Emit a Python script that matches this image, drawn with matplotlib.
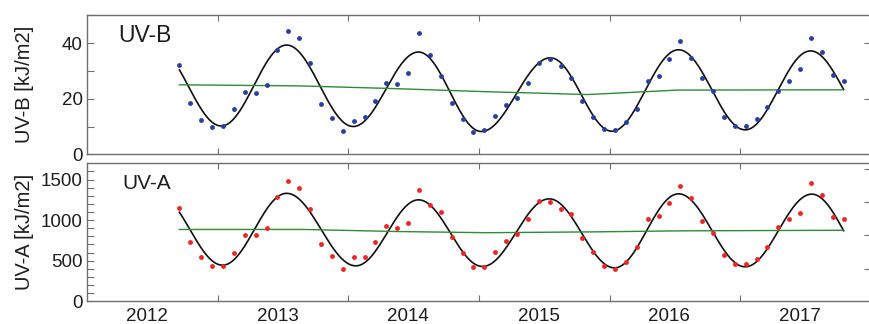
import numpy as np
import pandas as pd
import matplotlib
matplotlib.use("Agg")
import matplotlib.pyplot as plt

plt.rcParams['font.family'] = ['Liberation Sans', 'DejaVu Sans']

# ---------------- data ----------------
months = pd.date_range('2012-04-01', periods=62, freq='MS')
t = (months.year + (months.month - 1) / 12.0).to_numpy(dtype=float)

uvb = [32.2, 18.6, 12.4, 9.85, 10.3, 16.2, 22.3, 22.1, 24.9, 37.6, 44.2,
       41.7, 32.9, 18.1, 13.1, 8.5, 12.1, 13.3, 19.1, 25.7, 25.3, 29.2, 43.7,
       35.8, 28.1, 18.4, 12.6, 8.0, 8.9, 13.7, 17.8, 20.2, 25.7, 32.7, 34.2,
       31.7, 27.4, 19.0, 13.3, 9.1, 8.6, 11.5, 16.3, 26.5, 28.1, 34.4, 40.8,
       34.7, 27.6, 22.9, 13.3, 10.1, 10.3, 12.6, 17.1, 22.7, 26.4, 30.6, 41.7,
       36.9, 28.7, 26.2]

uva = [1147, 734, 540, 441, 429, 590, 821, 813, 899, 1279, 1477,
       1390, 1139, 710, 553, 400, 540, 545, 730, 924, 899, 969, 1374,
       1188, 1106, 788, 598, 421, 421, 602, 747, 833, 1011, 1233, 1221,
       1139, 1077, 780, 606, 437, 392, 487, 672, 1011, 1048, 1205, 1423,
       1271, 994, 846, 573, 454, 454, 524, 664, 920, 1019, 1085, 1460,
       1308, 1040, 1015]

# fitted seasonal curve: successive extrema (year, value)
fit_b_x = [2012.07, 2012.57, 2013.07, 2013.58, 2014.08, 2014.56, 2015.09, 2015.56,
           2016.07, 2016.58, 2017.08, 2017.58]
fit_b_y = [38.5, 10.2, 39.3, 10.0, 36.8, 8.2, 34.7, 8.3, 37.6, 8.8, 37.2, 10.0]
fit_a_x = [2012.08, 2012.58, 2013.07, 2013.60, 2014.08, 2014.57, 2015.08, 2015.58,
           2016.07, 2016.58, 2017.09, 2017.59]
fit_a_y = [1325, 445, 1330, 437, 1250, 429, 1262, 412, 1324, 425, 1320, 380]

# trend line (green)
trend_b_x = [2012.25, 2013.17, 2013.85, 2014.61, 2015.37, 2015.68, 2016.06, 2017.33]
trend_b_y = [25.0, 24.6, 23.7, 22.5, 21.5, 22.2, 23.1, 23.2]
trend_a_x = [2012.25, 2013.20, 2013.90, 2014.60, 2015.40, 2016.10, 2017.33]
trend_a_y = [885, 885, 860, 845, 855, 868, 875]

year_labels = ['2012', '2013', '2014', '2015', '2016', '2017']
year_pos = [2012, 2013, 2014, 2015, 2016, 2017]
tick_pos = [2012.543, 2013.543, 2014.543, 2015.543, 2016.543, 2017.543]


def cosine_curve(xe, ye, tt):
    xe = np.asarray(xe, float)
    ye = np.asarray(ye, float)
    idx = np.clip(np.searchsorted(xe, tt) - 1, 0, len(xe) - 2)
    x0, x1 = xe[idx], xe[idx + 1]
    y0, y1 = ye[idx], ye[idx + 1]
    ph = (tt - x0) / (x1 - x0) * np.pi
    return y1 + (y0 - y1) * (1 + np.cos(ph)) / 2


W, H = 869, 324
fig = plt.figure(figsize=(W / 100, H / 100), dpi=100)

ax1 = fig.add_axes([87 / W, (H - 154.3) / H, 784 / W, 139 / H])
ax2 = fig.add_axes([87 / W, (H - 301.3) / H, 784 / W, 138 / H])

xlim = (2011.5425, 2017.516)
spine_c = '#6e6e6e'
txt_c = '#1e1e1e'

tt = np.linspace(t[0], t[-1], 800)

for ax, vals, col, fx, fy, tx, ty, ylim, ylab, plab, psize, px, py in [
    (ax1, uvb, '#2a3f9f', fit_b_x, fit_b_y, trend_b_x, trend_b_y, (0, 50),
     'UV-B [kJ/m2]', 'UV-B', 16.5, (118 - 87) / 784, 0.855),
    (ax2, uva, '#f02525', fit_a_x, fit_a_y, trend_a_x, trend_a_y, (0, 1700),
     'UV-A [kJ/m2]', 'UV-A', 15, (122 - 87) / 784, 0.855),
]:
    ax.plot(t, vals, 'o', color=col, markersize=3.5, markeredgewidth=0, zorder=3)
    ax.plot(tt, cosine_curve(fx, fy, tt), color='#111111', lw=1.2, zorder=2)
    ax.plot(tx, ty, color='#2e8b3a', lw=1.0, zorder=2)
    ax.set_xlim(*xlim)
    ax.set_ylim(*ylim)
    for s in ax.spines.values():
        s.set_color(spine_c)
        s.set_linewidth(1.0)
    ax.set_xticks(tick_pos)
    ax.set_xticklabels([''] * len(tick_pos))
    ax.tick_params(axis='x', which='major', direction='in', top=True, bottom=True,
                   length=4, width=0.8, color=spine_c)
    ax.tick_params(axis='y', which='both', direction='in', left=True, right=False,
                   length=5, width=0.8, color=spine_c, labelsize=13.5,
                   labelcolor=txt_c, pad=3)
    ax.set_ylabel(ylab, fontsize=14.5, color=txt_c)
    ax.yaxis.set_label_coords(-0.0676, 0.5)
    ax.text(px, py, plab, transform=ax.transAxes, fontsize=psize,
            color=txt_c, va='center', ha='left')

ax1.set_yticks([0, 20, 40])
ax1.set_yticks([10, 30, 50], minor=True)
ax2.set_yticks([0, 500, 1000, 1500])
ax2.set_yticks(np.arange(100, 1700, 100), minor=True)

sec1 = ax1.secondary_yaxis('right')
sec1.set_yticks([0, 20, 40])
sec1.set_yticklabels([])
sec1.tick_params(direction='in', length=5, width=0.8, color=spine_c)
sec1.spines['right'].set_color(spine_c)

sec2 = ax2.secondary_yaxis('right')
sec2.set_yticks([404, 812, 1221, 1634])
sec2.set_yticklabels([])
sec2.tick_params(direction='in', length=5, width=0.8, color=spine_c)
sec2.spines['right'].set_color(spine_c)

ax2.set_xticks(year_pos, minor=True)
ax2.set_xticklabels(year_labels, minor=True)
ax2.tick_params(axis='x', which='minor', length=0, labelsize=13.5,
                labelcolor=txt_c, pad=5)

fig.savefig('out.png', dpi=100)
